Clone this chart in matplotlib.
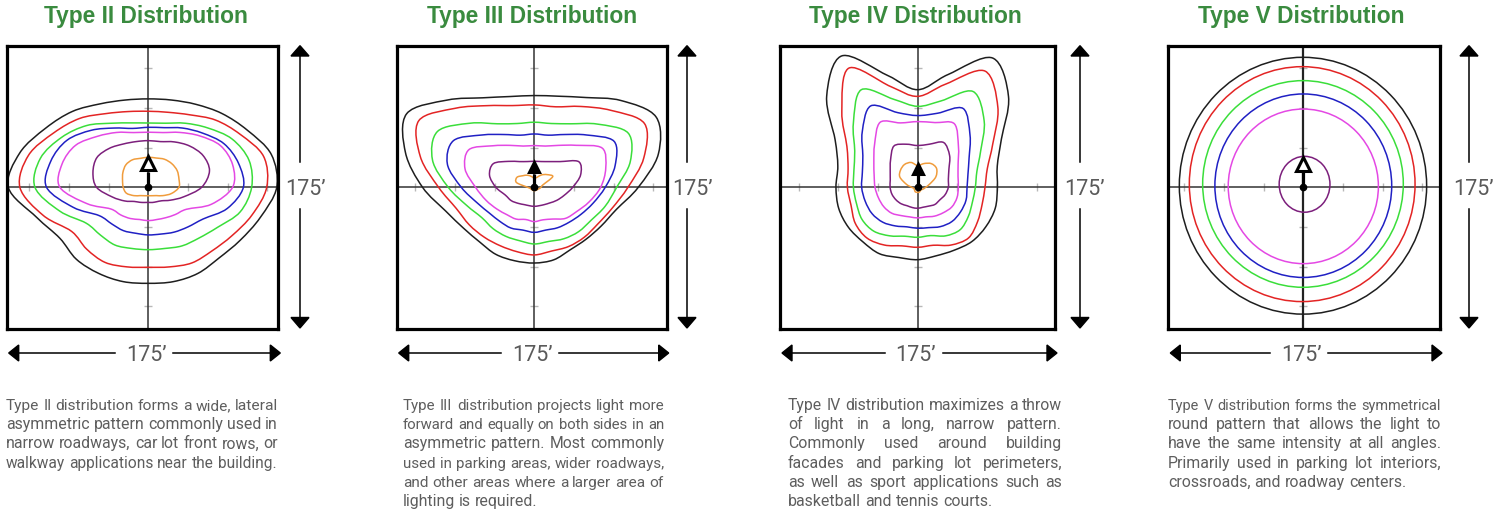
import numpy as np
import matplotlib
matplotlib.use("Agg")
import matplotlib.pyplot as plt
from matplotlib.patches import Ellipse, Polygon, PathPatch
from matplotlib.path import Path

# ---------------------------------------------------------------- data
# angles (deg, counter-clockwise from lateral +x axis) at which radii are read
ANGLES = np.arange(0, 360, 15)

# Type II isolux contour radii (ft-like units, one value per 15 degrees)
t2_black = [80.9, 80.2, 72.0, 65.7, 60.3, 56.9, 55.7, 56.9, 60.7, 67.6, 74.6, 83.8,
            88.2, 72.9, 64.3, 64.1, 62.6, 61.5, 60.5, 61.5, 62.6, 63.0, 66.8, 73.1]
t2_red = [74.6, 75.2, 66.8, 59.9, 52.7, 48.9, 47.9, 49.4, 53.6, 61.3, 68.7, 78.1,
          80.9, 68.5, 55.7, 55.0, 54.6, 51.9, 50.4, 51.9, 55.0, 56.7, 60.9, 67.6]
t2_green = [65.1, 65.7, 60.9, 52.9, 46.6, 41.8, 40.5, 42.0, 46.6, 55.0, 63.0, 70.4,
            71.4, 57.8, 45.2, 42.6, 42.0, 39.9, 39.3, 39.9, 42.6, 45.2, 50.4, 59.9]
t2_blue = [59.9, 58.8, 55.0, 48.3, 43.1, 38.9, 37.8, 38.4, 43.1, 50.8, 59.2, 63.6,
           64.1, 48.9, 35.7, 32.6, 31.5, 30.0, 30.0, 30.5, 32.6, 35.3, 39.9, 51.5]
t2_magenta = [53.1, 55.0, 52.5, 45.8, 39.9, 35.7, 34.7, 35.7, 39.9, 45.4, 52.9, 56.3,
              55.7, 39.9, 27.3, 24.6, 22.7, 21.0, 21.0, 21.0, 22.1, 24.2, 27.7, 41.2]
t2_purple = [33.6, 39.9, 39.9, 36.8, 33.0, 29.8, 29.4, 29.8, 31.5, 34.7, 37.4, 36.1,
             32.6, 23.5, 17.2, 12.6, 10.9, 9.9, 9.5, 9.9, 10.5, 12.0, 16.2, 23.1]
t2_orange = [19.3, 20.0, 21.0, 21.0, 20.4, 19.1, 18.9, 18.9, 20.0, 20.0, 18.5, 16.8,
             15.8, 14.3, 10.5, 7.4, 6.1, 5.5, 5.3, 5.5, 6.1, 7.4, 10.5, 15.1]

# Type III
t3_black = [65.5, 80.9, 88.6, 77.3, 65.3, 59.4, 57.8, 59.2, 65.1, 77.7, 92.8, 84.0,
            70.4, 57.8, 51.5, 48.7, 48.7, 47.9, 47.7, 47.3, 45.4, 46.2, 48.7, 53.6]
t3_red = [59.0, 71.4, 80.2, 68.5, 58.8, 52.5, 51.9, 53.3, 59.4, 70.4, 84.0, 74.3,
          60.3, 51.0, 47.3, 44.5, 42.6, 42.0, 42.6, 41.6, 43.1, 44.5, 46.2, 50.8]
t3_green = [51.9, 62.6, 68.3, 56.3, 46.2, 41.6, 41.0, 41.6, 46.2, 57.1, 70.4, 66.4,
            54.2, 44.1, 38.2, 36.8, 35.7, 34.9, 35.7, 35.3, 37.4, 39.5, 41.4, 46.2]
t3_blue = [44.7, 52.7, 58.0, 46.6, 38.4, 34.0, 33.6, 34.0, 38.4, 46.6, 58.8, 56.7,
           46.0, 37.4, 32.6, 30.5, 29.6, 27.9, 28.4, 27.9, 29.4, 31.1, 34.0, 38.4]
t3_magenta = [41.8, 46.6, 49.4, 37.4, 30.5, 26.9, 26.3, 26.9, 30.5, 37.0, 47.5, 45.2,
              37.0, 31.5, 27.3, 24.4, 23.1, 21.0, 21.6, 21.2, 23.1, 27.7, 30.7, 35.7]
t3_purple = [24.2, 30.2, 32.3, 22.9, 18.7, 16.8, 16.4, 16.8, 18.7, 23.1, 29.8, 29.2,
             24.2, 18.9, 16.8, 14.3, 12.6, 12.0, 12.0, 12.0, 12.6, 13.9, 16.4, 19.5]
t3_orange = [4.2, 5.5, 13.4, 11.3, 9.0, 6.5, 5.7, 7.1, 8.8, 10.3, 12.6, 11.6,
             4.2, 2.7, 2.3, 2.1, 2.1, 2.1, 2.1, 2.1, 2.1, 2.3, 2.5, 3.2]

# Type IV
t4_black = [50.2, 51.9, 60.9, 80.9, 94.1, 73.5, 61.5, 72.9, 95.6, 81.1, 60.1, 52.1,
            51.5, 51.5, 50.4, 48.7, 48.3, 45.8, 45.6, 44.7, 45.8, 48.3, 49.6, 50.6]
t4_red = [42.4, 45.4, 54.6, 71.4, 84.6, 67.2, 57.3, 65.7, 86.7, 67.6, 51.5, 45.4,
          44.3, 43.5, 45.4, 45.2, 42.0, 38.2, 37.8, 37.8, 42.0, 45.2, 43.5, 42.0]
t4_green = [36.3, 38.6, 45.8, 59.2, 69.7, 56.3, 51.0, 57.3, 71.0, 57.3, 45.8, 41.6,
            40.5, 39.9, 40.5, 39.1, 35.3, 31.9, 31.5, 31.5, 35.3, 37.8, 36.8, 35.7]
t4_blue = [31.1, 32.8, 37.4, 46.6, 57.3, 48.3, 45.2, 48.7, 59.2, 49.4, 39.9, 36.1,
           35.3, 34.2, 33.2, 31.1, 28.1, 25.8, 25.8, 26.3, 28.6, 30.5, 31.1, 31.5]
t4_magenta = [25.6, 26.3, 29.4, 36.3, 46.2, 42.2, 41.4, 42.0, 47.3, 38.4, 31.9, 28.4,
              26.9, 25.6, 24.6, 23.1, 20.6, 19.3, 19.3, 19.3, 21.0, 22.7, 24.8, 25.6]
t4_purple = [19.3, 20.0, 22.7, 28.4, 32.6, 28.1, 26.3, 28.1, 30.0, 24.2, 20.0, 17.9,
             17.4, 16.8, 15.8, 14.7, 13.4, 13.2, 13.2, 13.0, 13.7, 15.3, 16.0, 17.9]
t4_orange = [5.0, 7.8, 13.2, 16.8, 17.2, 15.5, 13.7, 16.2, 16.6, 15.3, 13.0, 7.4,
             3.8, 2.5, 2.5, 2.7, 3.2, 3.2, 3.2, 3.2, 2.9, 2.5, 2.9, 3.8]

# Type V: near-circular rings (horizontal radius, vertical radius, centre offset)
t5_levels = ["black", "red", "green", "blue", "magenta", "purple"]
t5_rx = [77.9, 71.1, 63.2, 55.7, 47.3, 16.0]
t5_ry = [80.9, 74.0, 65.1, 57.8, 48.7, 17.6]
t5_cx = [-0.2, -0.7, -0.2, 0.0, 0.0, 0.8]
t5_cy = [1.0, 2.0, 2.1, 1.0, 0.6, 1.9]

LEVELS = ["black", "red", "green", "blue", "magenta", "purple", "orange"]
LEVEL_COLORS = {"black": "#1e1e1e", "red": "#e32424", "green": "#3ade3a",
                "blue": "#2020c4", "magenta": "#e448e4", "purple": "#7c1f7c",
                "orange": "#f09c3c"}

TITLES = ["Type II Distribution", "Type III Distribution",
          "Type IV Distribution", "Type V Distribution"]
SIZE_LABEL = "175\u2019"

DESCRIPTIONS = [
    ["Type II distribution forms a wide, lateral",
     "asymmetric pattern commonly used in",
     "narrow roadways, car lot front rows, or",
     "walkway applications near the building."],
    ["Type III distribution projects light more",
     "forward and equally on both sides in an",
     "asymmetric pattern. Most commonly",
     "used in parking areas, wider roadways,",
     "and other areas where a larger area of",
     "lighting is required."],
    ["Type IV distribution maximizes a throw",
     "of light in a long, narrow pattern.",
     "Commonly used around building",
     "facades and parking lot perimeters,",
     "as well as sport applications such as",
     "basketball and tennis courts."],
    ["Type V distribution forms the symmetrical",
     "round pattern that allows the light to",
     "have the same intensity at all angles.",
     "Primarily used in parking lot interiors,",
     "crossroads, and roadway centers."],
]

CONTOURS = {
    0: [t2_black, t2_red, t2_green, t2_blue, t2_magenta, t2_purple, t2_orange],
    1: [t3_black, t3_red, t3_green, t3_blue, t3_magenta, t3_purple, t3_orange],
    2: [t4_black, t4_red, t4_green, t4_blue, t4_magenta, t4_purple, t4_orange],
}

# ---------------------------------------------------------------- layout
W, H = 1505, 510
BOX_TOP, BOX_BOT, CY = 46.7, 330.0, 188.3
UNIT_PER_PX = 0.63
BOXES = [(6.7, 278.3, 148.3), (396.7, 666.7, 534.3),
         (780.0, 1055.0, 917.7), (1168.3, 1440.0, 1303.3)]
VARROW_X = [300, 687, 1080, 1469]
VLABEL_X = [305, 692, 1084, 1473]
TEXT_X = [(6, 278), (403, 664), (788, 1062), (1168, 1441)]
LUMS = [(15.0, 9.6, 10.0, False), (12.8, 8.4, 7.8, True),
        (11.8, 7.8, 7.8, True), (14.7, 9.6, 9.5, False)]

FONT = ["Liberation Sans", "DejaVu Sans"]
LIGHT = ["Roboto", "Liberation Sans", "DejaVu Sans"]
GRAY = "#5e5e5e"
LABEL_GRAY = "#5a5a5a"


def smooth_closed_path(x, y):
    """Closed cubic Bezier path passing through the given points (Catmull-Rom handles)."""
    P = np.column_stack([x, y])
    n = len(P)
    verts = [P[0]]
    codes = [Path.MOVETO]
    for k in range(n):
        p0, p1, p2, p3 = P[k - 1], P[k], P[(k + 1) % n], P[(k + 2) % n]
        verts += [p1 + (p2 - p0) / 6.0, p2 - (p3 - p1) / 6.0, p2]
        codes += [Path.CURVE4] * 3
    return Path(verts, codes)


fig = plt.figure(figsize=(W / 100, H / 100), dpi=100)
ov = fig.add_axes([0, 0, 1, 1])
ov.set_xlim(0, W)
ov.set_ylim(H, 0)
ov.axis("off")

th = np.deg2rad(ANGLES)

for i, (bl, br, cx) in enumerate(BOXES):
    ax = fig.add_axes([bl / W, (H - BOX_BOT) / H, (br - bl) / W, (BOX_BOT - BOX_TOP) / H])
    ax.set_xlim((bl - cx) * UNIT_PER_PX, (br - cx) * UNIT_PER_PX)
    ax.set_ylim((CY - BOX_BOT) * UNIT_PER_PX, (CY - BOX_TOP) * UNIT_PER_PX)
    ax.set_xticks([])
    ax.set_yticks([])
    for sp in ax.spines.values():
        sp.set_linewidth(2.3)
        sp.set_color("black")
        sp.set_zorder(10)

    vlw = 1.6 if i == 3 else 1.1
    ax.axhline(0, color="#333333", lw=1.1, zorder=2)
    ax.axvline(0, color="#222222" if i == 3 else "#333333", lw=vlw, zorder=2)
    tks = [-75, -50, -25, 25, 50, 75]
    ax.plot(np.zeros(len(tks)), tks, ls="none", marker="_", ms=6, mew=1,
            color="#b8b8b8", zorder=1)
    ax.plot(tks, np.zeros(len(tks)), ls="none", marker="|", ms=6, mew=1,
            color="#b8b8b8", zorder=1)

    if i in CONTOURS:
        for name, radii in zip(LEVELS, CONTOURS[i]):
            r = np.asarray(radii)
            path = smooth_closed_path(r * np.cos(th), r * np.sin(th))
            ax.add_patch(PathPatch(path, fill=False, edgecolor=LEVEL_COLORS[name],
                                   lw=1.1, zorder=3))
    else:
        for name, rx, ry, ex, ey in zip(t5_levels, t5_rx, t5_ry, t5_cx, t5_cy):
            ax.add_patch(Ellipse((ex, ey), 2 * rx, 2 * ry, fill=False,
                                 edgecolor=LEVEL_COLORS[name], lw=1.1, zorder=3))

    tc, tb, ms, filled = LUMS[i]
    ax.plot([0, 0], [0, tb], color="black", lw=2.3, zorder=5, solid_capstyle="butt")
    ax.plot([0], [tc], marker="^", ms=ms, mfc="black" if filled else "white",
            mec="black", mew=2.2, zorder=6)
    ax.plot([0], [0], marker="o", ms=4.5, color="black", zorder=6)

    ov.text(cx - 2, 22.7, TITLES[i], ha="center", va="baseline", fontsize=16.4,
            fontweight="bold", color="#3a8b3f", family=FONT)

    vx = VARROW_X[i]
    ov.plot([vx, vx], [56, 163], color="black", lw=1.1)
    ov.plot([vx, vx], [210, 319], color="black", lw=1.1)
    ov.add_patch(Polygon([[vx, BOX_TOP], [vx - 9, 57], [vx + 9, 57]], closed=True,
                         color="black"))
    ov.add_patch(Polygon([[vx, 329], [vx - 9, 318.5], [vx + 9, 318.5]], closed=True,
                         color="black"))
    ov.text(VLABEL_X[i], 195.5, SIZE_LABEL, ha="center", va="baseline",
            fontsize=15.5, color=LABEL_GRAY, family=LIGHT)

    hy = 354
    x0, x1 = bl + 2, br + 2
    lc = cx - 2
    ov.plot([x0 + 9, lc - 31], [hy, hy], color="black", lw=1.1)
    ov.plot([lc + 27, x1 - 9], [hy, hy], color="black", lw=1.1)
    ov.add_patch(Polygon([[x0, hy], [x0 + 10, hy - 8], [x0 + 10, hy + 8]], closed=True,
                         color="black"))
    ov.add_patch(Polygon([[x1, hy], [x1 - 10, hy - 8], [x1 - 10, hy + 8]], closed=True,
                         color="black"))
    ov.text(lc, hy + 7.5, SIZE_LABEL, ha="center", va="baseline",
            fontsize=15.5, color=LABEL_GRAY, family=LIGHT)

# ---------------------------------------------------------------- justified text
renderer = fig.canvas.get_renderer()


def text_width(s, fs):
    t = ov.text(0, 0, s, fontsize=fs, family=LIGHT)
    w = t.get_window_extent(renderer).width
    t.remove()
    return w


def justified(lines, xl, xr, base_y, dy, fs):
    target = xr - xl
    for k, line in enumerate(lines):
        y = base_y + k * dy
        words = line.split()
        f = fs
        for _ in range(4):
            widths = [text_width(w, f) for w in words]
            space = text_width("a a", f) - text_width("aa", f)
            natural = sum(widths) + space * (len(words) - 1)
            if natural <= target + 0.5:
                break
            f *= target / natural
        last = k == len(lines) - 1
        gap = space if (last or len(words) < 2) else (target - sum(widths)) / (len(words) - 1)
        x = xl
        for w, ww in zip(words, widths):
            ov.text(x, y, w, fontsize=f, family=LIGHT, color=GRAY,
                    ha="left", va="baseline")
            x += ww + gap


for i, lines in enumerate(DESCRIPTIONS):
    xl, xr = TEXT_X[i]
    justified(lines, xl, xr, 410.0, 19.25, 11.4)

fig.savefig("out.png", dpi=100, facecolor="white")
